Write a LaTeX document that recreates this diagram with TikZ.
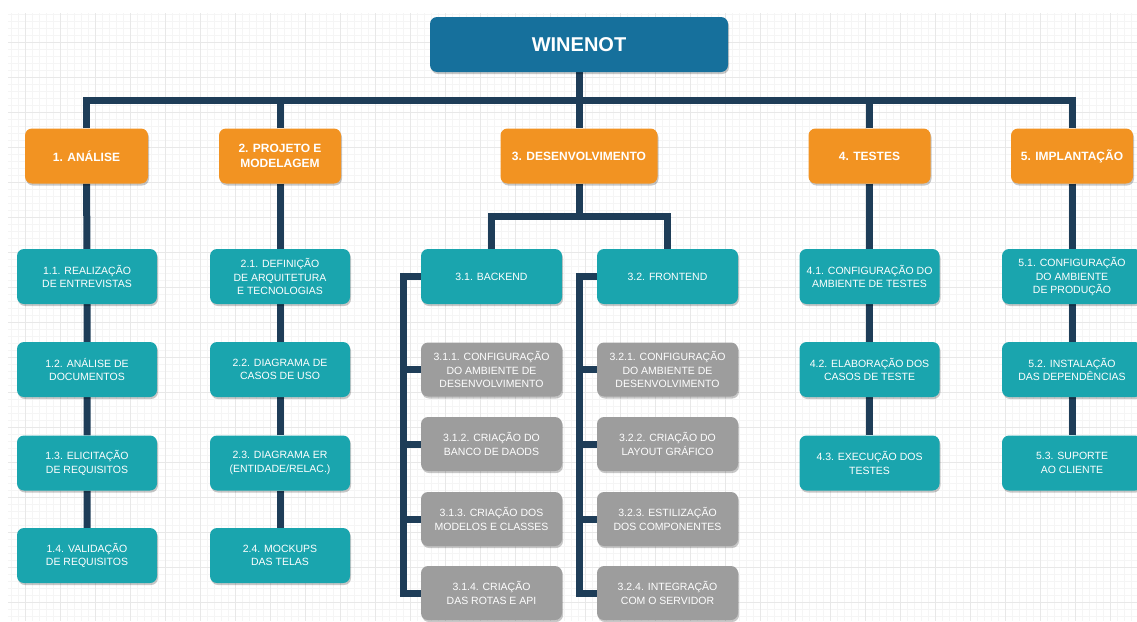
\documentclass[tikz,border=0pt]{standalone}
\usepackage{fontspec}
\setmainfont{Liberation Sans}
\usetikzlibrary{shadows}
\definecolor{orng}{HTML}{F29322}
\definecolor{tealbox}{HTML}{1AA5AE}
\definecolor{greybox}{HTML}{9D9D9D}
\definecolor{rootblue}{HTML}{16709C}
\definecolor{navyline}{HTML}{1E3D58}
\definecolor{gridmaj}{HTML}{E8E8E8}
\definecolor{gridmin}{HTML}{F5F5F5}
\pgfdeclarelayer{gridlayer}
\pgfdeclarelayer{edgelayer}
\pgfsetlayers{gridlayer,edgelayer,main}
\begin{document}
\begin{tikzpicture}[x=1pt,y=-1pt,
  box/.style={rounded corners=7pt, text=white, align=center, inner sep=2pt,
    drop shadow={shadow xshift=1pt, shadow yshift=-2pt, opacity=0.22, fill=black}},
  rootbox/.style={box, fill=rootblue, minimum width=298pt, minimum height=55pt,
    font=\bfseries\fontsize{20}{24}\selectfont},
  phasebox/.style={box, fill=orng, minimum width=122pt, minimum height=55pt,
    font=\bfseries\fontsize{12}{15.3}\selectfont},
  taskbox/.style={box, fill=tealbox, minimum width=140pt, minimum height=55pt,
    font=\fontsize{10.5}{13.3}\selectfont},
  subbox/.style={box, fill=greybox, minimum width=141pt, minimum height=54pt,
    font=\fontsize{10.5}{13.3}\selectfont},
  conn/.style={draw=navyline, line width=7pt},
  minorgrid/.style={draw=gridmin, line width=0.5pt},
  majorgrid/.style={draw=gridmaj, line width=0.6pt}]
\useasboundingbox (0,0) rectangle (1137,621);

\begin{pgfonlayer}{gridlayer}
  \fill[white] (0,0) rectangle (1137,621);
  \foreach \i in {0,...,161} {\draw[minorgrid] ({11+7*\i},13) -- ({11+7*\i},621);}
  \foreach \i in {0,...,86} {\draw[minorgrid] (8,{14+7*\i}) -- (1137,{14+7*\i});}
  \foreach \i in {0,...,32} {\draw[majorgrid] ({25+35*\i},13) -- ({25+35*\i},621);}
  \foreach \i in {0,...,17} {\draw[majorgrid] (8,{42+35*\i}) -- (1137,{42+35*\i});}
\end{pgfonlayer}

% root
\node[rootbox] (root) at (579,44.5) {WINENOT};

% phases
\node[phasebox, minimum width=123pt] (p1) at (86.5,156) {1. ANÁLISE};
\node[phasebox] (p2) at (280,156) {2. PROJETO E\\MODELAGEM};
\node[phasebox, minimum width=157pt] (p3) at (579,156) {3. DESENVOLVIMENTO};
\node[phasebox] (p4) at (869.5,156) {4. TESTES};
\node[phasebox] (p5) at (1072,156) {5. IMPLANTAÇÃO};

% column 1
\node[taskbox] (t11) at (87,276.5) {1.1. REALIZAÇÃO\\DE ENTREVISTAS};
\node[taskbox] (t12) at (87,369.5) {1.2. ANÁLISE DE\\DOCUMENTOS};
\node[taskbox] (t13) at (87,463) {1.3. ELICITAÇÃO\\DE REQUISITOS};
\node[taskbox] (t14) at (87,555.5) {1.4. VALIDAÇÃO\\DE REQUISITOS};

% column 2
\node[taskbox] (t21) at (280,276.5) {2.1. DEFINIÇÃO\\DE ARQUITETURA\\E TECNOLOGIAS};
\node[taskbox] (t22) at (280,369.5) {2.2. DIAGRAMA DE\\CASOS DE USO};
\node[taskbox] (t23) at (280,463) {2.3. DIAGRAMA ER\\(ENTIDADE/RELAC.)};
\node[taskbox] (t24) at (280,555.5) {2.4. MOCKUPS\\DAS TELAS};

% column 3
\node[taskbox, minimum width=141pt] (t31) at (491.5,276.5) {3.1. BACKEND};
\node[taskbox, minimum width=141pt] (t32) at (667.5,276.5) {3.2. FRONTEND};
\node[subbox] (s311) at (491.5,369.5) {3.1.1. CONFIGURAÇÃO\\DO AMBIENTE DE\\DESENVOLVIMENTO};
\node[subbox] (s312) at (491.5,444) {3.1.2. CRIAÇÃO DO\\BANCO DE DAODS};
\node[subbox] (s313) at (491.5,519) {3.1.3. CRIAÇÃO DOS\\MODELOS E CLASSES};
\node[subbox] (s314) at (491.5,593) {3.1.4. CRIAÇÃO\\DAS ROTAS E API};
\node[subbox] (s321) at (667.5,369.5) {3.2.1. CONFIGURAÇÃO\\DO AMBIENTE DE\\DESENVOLVIMENTO};
\node[subbox] (s322) at (667.5,444) {3.2.2. CRIAÇÃO DO\\LAYOUT GRÁFICO};
\node[subbox] (s323) at (667.5,519) {3.2.3. ESTILIZAÇÃO\\DOS COMPONENTES};
\node[subbox] (s324) at (667.5,593) {3.2.4. INTEGRAÇÃO\\COM O SERVIDOR};

% column 4
\node[taskbox] (t41) at (869.5,276.5) {4.1. CONFIGURAÇÃO DO\\AMBIENTE DE TESTES};
\node[taskbox] (t42) at (869.5,369.5) {4.2. ELABORAÇÃO DOS\\CASOS DE TESTE};
\node[taskbox] (t43) at (869.5,463) {4.3. EXECUÇÃO DOS\\TESTES};

% column 5
\node[taskbox] (t51) at (1072,276.5) {5.1. CONFIGURAÇÃO\\DO AMBIENTE\\DE PRODUÇÃO};
\node[taskbox] (t52) at (1072,369.5) {5.2. INSTALAÇÃO\\DAS DEPENDÊNCIAS};
\node[taskbox] (t53) at (1072,463) {5.3. SUPORTE\\AO CLIENTE};

\coordinate (bus) at (579,100);
\coordinate (devbus) at (579,216);
\coordinate (bx) at (403.5,0);
\coordinate (fx) at (579.5,0);

\begin{pgfonlayer}{edgelayer}
  \draw[conn] (root) -- (p3);
  \draw[conn] (p1.north) -- (p1.north |- bus) -- (p5.north |- bus) -- (p5.north);
  \draw[conn] (p2.north) -- (p2.north |- bus);
  \draw[conn] (p4.north) -- (p4.north |- bus);
  \draw[conn] (p1) -- (t11) -- (t12) -- (t13) -- (t14);
  \draw[conn] (p2) -- (t21) -- (t22) -- (t23) -- (t24);
  \draw[conn] (p4) -- (t41) -- (t42) -- (t43);
  \draw[conn] (p5) -- (t51) -- (t52) -- (t53);
  \draw[conn] (t31.north) -- (t31.north |- devbus) -- (t32.north |- devbus) -- (t32.north);
  \draw[conn] (p3.south) -- (devbus);
  \draw[conn] (t31.west) -- (t31.west -| bx) -- (s314.west -| bx) -- (s314.west);
  \draw[conn] (s311.west) -- (s311.west -| bx);
  \draw[conn] (s312.west) -- (s312.west -| bx);
  \draw[conn] (s313.west) -- (s313.west -| bx);
  \draw[conn] (t32.west) -- (t32.west -| fx) -- (s324.west -| fx) -- (s324.west);
  \draw[conn] (s321.west) -- (s321.west -| fx);
  \draw[conn] (s322.west) -- (s322.west -| fx);
  \draw[conn] (s323.west) -- (s323.west -| fx);
\end{pgfonlayer}
\end{tikzpicture}
\end{document}
